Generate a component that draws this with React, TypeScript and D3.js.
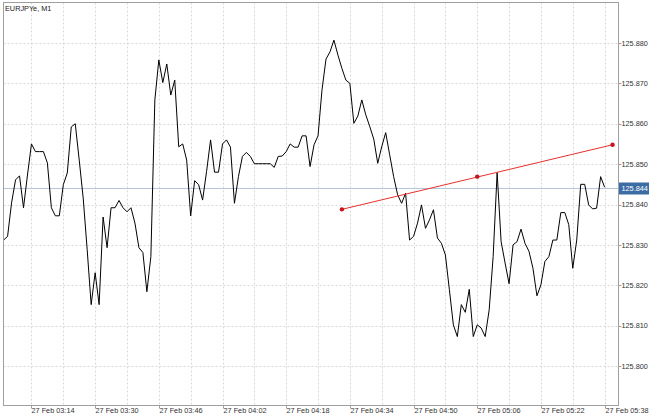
import React from "react";
import * as d3 from "d3";

const symbolLabel = "EURJPYe, M1";
const startTime = new Date(2019, 1, 27, 3, 7);
const prices = [
  125.8312, 125.8321, 125.8404, 125.8461, 125.8471, 125.8392, 125.8473, 125.855, 125.8531, 125.8531,
  125.8531, 125.8503, 125.8392, 125.8372, 125.8372, 125.8449, 125.8478, 125.8592, 125.86, 125.851,
  125.8416, 125.8288, 125.8152, 125.8231, 125.8152, 125.8369, 125.8293, 125.8392, 125.8392, 125.841,
  125.8392, 125.8382, 125.8392, 125.8354, 125.8293, 125.8281, 125.8184, 125.8271, 125.8659, 125.8758,
  125.8702, 125.8748, 125.8671, 125.8708, 125.8543, 125.855, 125.851, 125.8372, 125.8459, 125.8449,
  125.8411, 125.8482, 125.856, 125.848, 125.848, 125.855, 125.856, 125.8542, 125.8403, 125.8469,
  125.8519, 125.8529, 125.8519, 125.8501, 125.8501, 125.8501, 125.8501, 125.8501, 125.8492, 125.8519,
  125.852, 125.8531, 125.855, 125.8542, 125.8542, 125.857, 125.857, 125.8494, 125.8548, 125.857,
  125.8684, 125.876, 125.8778, 125.8807, 125.877, 125.8737, 125.8708, 125.87, 125.8601, 125.8619,
  125.8659, 125.8622, 125.8593, 125.8562, 125.8502, 125.8543, 125.8578, 125.8523, 125.8469, 125.8424,
  125.8403, 125.8428, 125.8312, 125.8321, 125.8354, 125.8399, 125.8341, 125.8362, 125.8387, 125.8317,
  125.8304, 125.8275, 125.8189, 125.8102, 125.8073, 125.8152, 125.8133, 125.819, 125.8073, 125.8102,
  125.8094, 125.8073, 125.8139, 125.8271, 125.8479, 125.8308, 125.8255, 125.8204, 125.83, 125.8308,
  125.8339, 125.8304, 125.8284, 125.8242, 125.8174, 125.8201, 125.8259, 125.8271, 125.8312, 125.8312,
  125.838, 125.838, 125.835, 125.8242, 125.8312, 125.845, 125.845, 125.8399, 125.8389, 125.8391,
  125.8469, 125.8443,
];
const priceTicks = [125.8, 125.81, 125.82, 125.83, 125.84, 125.85, 125.86, 125.87, 125.88];
const timeLabels = ["03:14", "03:30", "03:46", "04:02", "04:18", "04:34", "04:50", "05:06", "05:22", "05:38"];
const gridTimes = [
  "03:14", "03:22", "03:30", "03:38", "03:46", "03:54", "04:02", "04:10", "04:18", "04:26",
  "04:34", "04:42", "04:50", "04:58", "05:06", "05:14", "05:22", "05:30", "05:38",
];
const trendTimes = ["04:32", "05:06", "05:40"];
const trendValues = [125.8388, 125.8469, 125.8548];
const currentPrice = 125.844;

const W = 650;
const H = 416;
const plotL = 3.5;
const plotR = 618.5;
const plotT = 2.5;
const plotB = 405.5;

const toDate = (hm: string) => {
  const [h, m] = hm.split(":").map(Number);
  return new Date(2019, 1, 27, h, m);
};

export default function App() {
  const times = prices.map((_, i) => d3.timeMinute.offset(startTime, i));
  const x = d3
    .scaleTime()
    .domain([toDate("03:07"), toDate("05:38")])
    .range([3.6, 604.6]);
  const y = d3.scaleLinear().domain([125.79035, 125.8899]).range([405, 3]);
  const fmt = d3.timeFormat("%d %b %H:%M");
  const line = d3
    .line<number>()
    .x((_, i) => x(times[i]))
    .y((d) => y(d));
  const trendPts = trendTimes.map((t, i) => [x(toDate(t)), y(trendValues[i])] as [number, number]);
  const font = "'Liberation Sans', Arial, sans-serif";
  const cy = Math.round(y(currentPrice)) + 0.5;
  const fs = 7.3;

  return (
    <svg
      width={W}
      height={H}
      style={{ position: "absolute", left: 0, top: 0, background: "#fff" }}
      fontFamily={font}
    >
      <defs>
        <clipPath id="plotclip">
          <rect x={plotL} y={plotT} width={plotR - plotL} height={plotB - plotT} />
        </clipPath>
      </defs>
      {priceTicks.map((v) => (
        <line
          key={"h" + v}
          x1={plotL}
          x2={plotR}
          y1={Math.round(y(v)) + 0.5}
          y2={Math.round(y(v)) + 0.5}
          stroke="#d8d8d8"
          strokeDasharray="2,2"
        />
      ))}
      {gridTimes.map((t) => (
        <line
          key={"v" + t}
          x1={Math.round(x(toDate(t))) + 0.5}
          x2={Math.round(x(toDate(t))) + 0.5}
          y1={plotT}
          y2={plotB}
          stroke="#d8d8d8"
          strokeDasharray="2,2"
        />
      ))}
      <line x1={plotL} x2={plotR} y1={cy} y2={cy} stroke="#b4c6dc" strokeWidth={1} />
      <g clipPath="url(#plotclip)">
        <path d={line(prices) || ""} fill="none" stroke="#000" strokeWidth={1} />
        <path
          d={d3.line()([trendPts[0], trendPts[trendPts.length - 1]]) || ""}
          fill="none"
          stroke="#e8302c"
          strokeWidth={1}
        />
        {trendPts.map((p, i) => (
          <circle key={i} cx={p[0]} cy={p[1]} r={2.2} fill="#c8141c" />
        ))}
      </g>
      <rect
        x={plotL}
        y={plotT}
        width={plotR - plotL}
        height={plotB - plotT}
        fill="none"
        stroke="#a0a0a0"
      />
      <text x={5} y={10.5} fontSize={fs} fill="#222">
        {symbolLabel}
      </text>
      {priceTicks.map((v) => (
        <g key={"t" + v}>
          <line
            x1={plotR}
            x2={plotR + 3}
            y1={Math.round(y(v)) + 0.5}
            y2={Math.round(y(v)) + 0.5}
            stroke="#a0a0a0"
          />
          <text x={621.5} y={y(v) + 2.7} fontSize={fs} fill="#333">
            {v.toFixed(3)}
          </text>
        </g>
      ))}
      <rect x={619} y={cy - 6} width={30} height={12} fill="#3c6ca4" />
      <text x={621.5} y={cy + 2.7} fontSize={fs} fill="#fff">
        {currentPrice.toFixed(3)}
      </text>
      {timeLabels.map((t) => {
        const xx = Math.round(x(toDate(t))) + 0.5;
        return (
          <g key={"l" + t}>
            <line x1={xx} x2={xx} y1={plotB} y2={plotB + 3} stroke="#a0a0a0" />
            <text x={xx} y={plotB + 7.5} fontSize={fs} fill="#333">
              {fmt(toDate(t))}
            </text>
          </g>
        );
      })}
    </svg>
  );
}
